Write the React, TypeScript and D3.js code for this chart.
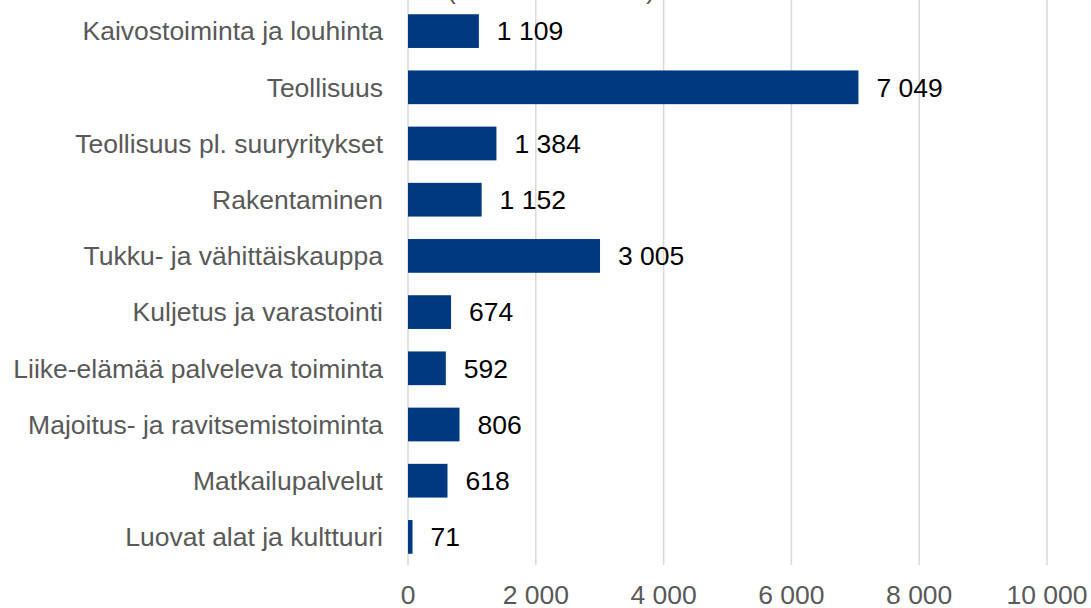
import React from "react";
import * as d3 from "d3";

const categories = [
  "Kaivostoiminta ja louhinta",
  "Teollisuus",
  "Teollisuus pl. suuryritykset",
  "Rakentaminen",
  "Tukku- ja vähittäiskauppa",
  "Kuljetus ja varastointi",
  "Liike-elämää palveleva toiminta",
  "Majoitus- ja ravitsemistoiminta",
  "Matkailupalvelut",
  "Luovat alat ja kulttuuri",
];
const values = [1109, 7049, 1384, 1152, 3005, 674, 592, 806, 618, 71];
const ticks = [0, 2000, 4000, 6000, 8000, 10000];

const fmt = (v: number) => d3.format(",")(v).replace(/,/g, " ");

export default function App() {
  const W = 1091, H = 608;
  const x = d3.scaleLinear().domain([0, 10000]).range([408, 1047]);
  const y = d3.scaleBand().domain(categories).range([3, 565]).paddingInner(0.4).paddingOuter(0.2);
  const font = "'Liberation Sans', Arial, sans-serif";
  const fs = 26.5;
  return (
    <svg width={W} height={H} style={{ position: "absolute", left: 0, top: 0 }} fontFamily={font}>
      <rect width={W} height={H} fill="#fff" />
      {ticks.map((t) => (
        <line key={t} x1={x(t)} x2={x(t)} y1={0} y2={565} stroke="#d9d9d9" strokeWidth={1.5} />
      ))}
      <text x={447} y={-1} fontSize={fs} fill="#595959">(</text>
      <text x={646} y={-1} fontSize={fs} fill="#595959">)</text>
      {categories.map((c, i) => (
        <g key={c}>
          <rect x={x(0)} y={y(c)!} width={x(values[i]) - x(0)} height={y.bandwidth()} fill="#003882" />
          <text x={383} y={y(c)! + y.bandwidth() / 2} dy="0.35em" textAnchor="end" fontSize={fs} fill="#595959">{c}</text>
          <text x={x(values[i]) + 18} y={y(c)! + y.bandwidth() / 2} dy="0.35em" fontSize={fs} fill="#000">{fmt(values[i])}</text>
        </g>
      ))}
      {ticks.map((t) => (
        <text key={t} x={x(t)} y={604} textAnchor="middle" fontSize={fs} fill="#595959">{fmt(t)}</text>
      ))}
    </svg>
  );
}
